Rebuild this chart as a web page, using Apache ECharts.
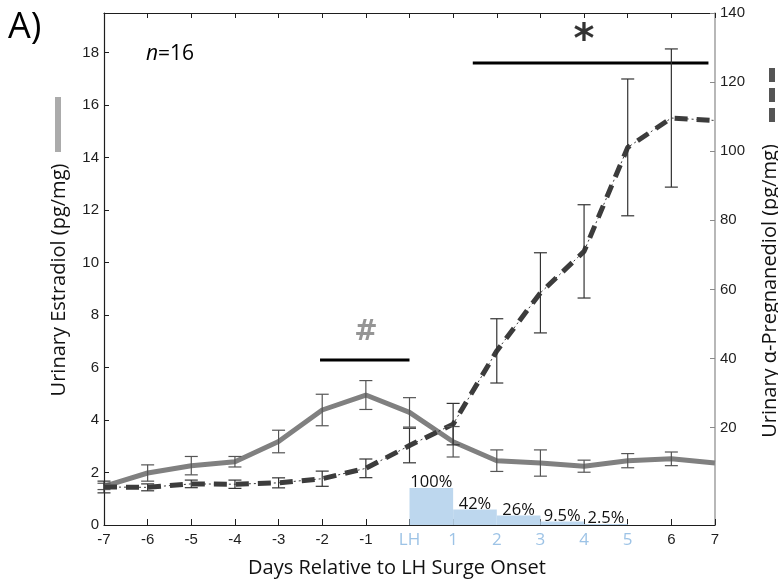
<!DOCTYPE html>
<html><head><meta charset="utf-8">
<script src="https://cdn.jsdelivr.net/npm/echarts@6/dist/echarts.min.js"></script>
<style>html,body{margin:0;padding:0;background:#fff}#c{width:778px;height:585px}</style>
</head><body><div id="c"></div>
<script>
// ---- data ----
const days = [-7,-6,-5,-4,-3,-2,-1,0,1,2,3,4,5,6,7];
const xTickLabels = ['-7','-6','-5','-4','-3','-2','-1','LH','1','2','3','4','5','6','7'];
const estradiol    = [1.47,1.98,2.26,2.41,3.18,4.38,4.95,4.29,3.17,2.45,2.36,2.24,2.45,2.52,2.36];
const estradiolErr = [0.12,0.31,0.35,0.20,0.43,0.60,0.55,0.56,0.58,0.41,0.50,0.23,0.27,0.26,null];
const pregnanediol = [2.8,2.7,3.7,3.6,4.0,5.2,8.2,14.8,21.0,42.2,59.0,71.0,101.1,109.6,108.9];
const pregErr      = [1.7,1.0,1.1,1.2,1.45,2.2,2.7,5.0,6.0,9.3,11.6,13.5,19.8,20.0,null];
const lhStart  = [0,1,2,3,4];
const lhEnd    = [1,2,3,4,5];
const lhPct    = [100,42,26,9.5,2.5];
const lhLabels = ['100%','42%','26%','9.5%','2.5%'];
const leftTicks  = [0,2,4,6,8,10,12,14,16,18];
const rightTicks = [20,40,60,80,100,120,140];
const hashBarX = [-2.05, 0.0], hashBarY = 6.28, hashPos = [-1.0, 7.33];
const starBarX = [1.45, 6.85], starBarY = 17.6, starPos = [4.0, 18.4];

// ---- styles ----
const AX = '#1e1e1e';
const TICKFONT = '"Liberation Sans", Arial, sans-serif';
const CAL = '"Open Sans", sans-serif';
const lhAxisMax = 1385;

function errorBars(yAxisIndex, vals, errs, color) {
  const data = [];
  days.forEach((d,i)=>{ if (errs[i] != null) data.push([d, vals[i]-errs[i], vals[i]+errs[i]]); });
  return {
    type:'custom', xAxisIndex:0, yAxisIndex, data, z:6, silent:true, clip:false,
    encode:{x:0, y:[1,2]},
    renderItem(params, api){
      const x = api.value(0);
      const lo = api.coord([x, api.value(1)]);
      const hi = api.coord([x, api.value(2)]);
      const hw = 6.5;
      const style = {stroke: color, lineWidth: 1.2};
      return {type:'group', children:[
        {type:'line', shape:{x1:lo[0],y1:lo[1],x2:hi[0],y2:hi[1]}, style},
        {type:'line', shape:{x1:lo[0]-hw,y1:lo[1],x2:lo[0]+hw,y2:lo[1]}, style},
        {type:'line', shape:{x1:hi[0]-hw,y1:hi[1],x2:hi[0]+hw,y2:hi[1]}, style}
      ]};
    }
  };
}

const blueMin = lhStart[0], blueMax = lhEnd[lhEnd.length-1];

const option = {
  animation:false,
  backgroundColor:'#fff',
  grid:{left:104, right:63, top:13, bottom:60, containLabel:false},
  xAxis:[{
    type:'value', min:-7, max:7, interval:1, position:'bottom',
    axisLine:{show:true, onZero:false, lineStyle:{color:AX, width:1.2}},
    axisTick:{show:true, inside:true, length:6, lineStyle:{color:AX}},
    splitLine:{show:false},
    axisLabel:{margin:7, formatter:v=>{
      const i = days.indexOf(v); const t = xTickLabels[i];
      return (v>=blueMin && v<=blueMax) ? '{b|'+t+'}' : '{k|'+t+'}';
    }, rich:{
      b:{color:'#9dc3e6', fontFamily:CAL, fontSize:17},
      k:{color:AX, fontFamily:TICKFONT, fontSize:15}
    }}
  },{
    type:'value', min:-7, max:7, interval:1, position:'top',
    axisLine:{show:true, onZero:false, lineStyle:{color:AX, width:1.2}},
    axisTick:{show:true, inside:true, length:5, lineStyle:{color:AX}},
    axisLabel:{show:false}, splitLine:{show:false}
  }],
  yAxis:[{
    type:'value', min:0, max:19.5, position:'left',
    axisLine:{show:true, onZero:false, lineStyle:{color:AX, width:1.2}},
    axisTick:{show:true, inside:true, length:5, customValues:leftTicks, lineStyle:{color:AX}},
    axisLabel:{margin:5, customValues:leftTicks, color:AX, fontFamily:TICKFONT, fontSize:15},
    splitLine:{show:false}
  },{
    type:'value', min:-8.2, max:140, position:'right',
    axisLine:{show:true, onZero:false, lineStyle:{color:'#a6a6a6', width:1.6}},
    axisTick:{show:true, inside:true, length:5, customValues:rightTicks, lineStyle:{color:'#8a8a8a'}},
    axisLabel:{margin:5, customValues:rightTicks, color:AX, fontFamily:TICKFONT, fontSize:15},
    splitLine:{show:false}
  },{
    type:'value', min:0, max:lhAxisMax, show:false, splitLine:{show:false}
  }],
  series:[
    {
      type:'custom', xAxisIndex:0, yAxisIndex:2, z:1, silent:true,
      data: lhStart.map((s,i)=>[s, lhEnd[i], lhPct[i]]),
      encode:{x:[0,1], y:2},
      renderItem(params, api){
        const p0 = api.coord([api.value(0), 0]);
        const p1 = api.coord([api.value(1), api.value(2)]);
        return {type:'group', children:[
          {type:'rect', shape:{x:p0[0], y:p1[1], width:p1[0]-p0[0], height:p0[1]-p1[1]}, style:{fill:'#bdd7ee'}},
          {type:'text', z2:5, style:{x:(p0[0]+p1[0])/2, y:p1[1]-5.5, text:lhLabels[params.dataIndex],
            fill:'#111', fontFamily:CAL, fontSize:16.5, align:'center', verticalAlign:'middle'}}
        ]};
      }
    },
    {
      type:'line', xAxisIndex:0, yAxisIndex:0, z:3, silent:true, showSymbol:false,
      data: days.map((d,i)=>[d, estradiol[i]]),
      lineStyle:{color:'#808080', width:5}
    },
    {
      type:'line', xAxisIndex:0, yAxisIndex:1, z:4, silent:true, showSymbol:false,
      data: days.map((d,i)=>[d, pregnanediol[i]]),
      lineStyle:{color:'#222', width:0.9, type:[2,3]}
    },
    {
      type:'line', xAxisIndex:0, yAxisIndex:1, z:4, silent:true, showSymbol:false,
      data: days.map((d,i)=>[d, pregnanediol[i]]),
      lineStyle:{color:'#3c3c3c', width:5, type:[13,9], cap:'butt'}
    },
    errorBars(0, estradiol, estradiolErr, '#555'),
    errorBars(1, pregnanediol, pregErr, '#333'),
    {
      type:'line', xAxisIndex:0, yAxisIndex:0, z:5, silent:true, showSymbol:false,
      data: hashBarX.map(x=>[x, hashBarY]), lineStyle:{color:'#000', width:3}
    },
    {
      type:'line', xAxisIndex:0, yAxisIndex:0, z:5, silent:true, showSymbol:false,
      data: starBarX.map(x=>[x, starBarY]), lineStyle:{color:'#000', width:3}
    },
    {
      type:'scatter', xAxisIndex:0, yAxisIndex:0, z:5, silent:true, symbolSize:0,
      data:[hashPos],
      label:{show:true, position:'inside', formatter:'#', color:'#7a7a7a', fontSize:28, fontWeight:'bold', fontFamily:'"DejaVu Sans", sans-serif'}
    },
    {
      type:'scatter', xAxisIndex:0, yAxisIndex:0, z:5, silent:true, symbolSize:0,
      data:[starPos],
      label:{show:true, position:'inside', formatter:'*', color:'#000', fontSize:40, fontWeight:'bold', fontFamily:'"DejaVu Sans", sans-serif'}
    }
  ],
  graphic:[
    {type:'text', left:8, top:10, style:{text:'A)', fill:'#000', font:'36px "Open Sans", sans-serif'}},
    {type:'text', x:146, y:54, style:{text:'{i|n}{r|=16}', verticalAlign:'middle', align:'left',
      rich:{i:{fontStyle:'italic', fontFamily:CAL, fontSize:21, fill:'#000'}, r:{fontFamily:CAL, fontSize:21, fill:'#000'}}}},
    {type:'text', x:397, y:568, style:{text:'Days Relative to LH Surge Onset', fill:'#111', fontFamily:CAL, fontSize:20, align:'center', verticalAlign:'middle'}},
    {type:'text', x:59, y:280, rotation:Math.PI/2, style:{text:'Urinary Estradiol (pg/mg)', fill:'#111', fontFamily:CAL, fontSize:20, align:'center', verticalAlign:'middle'}},
    {type:'text', x:770, y:291, rotation:Math.PI/2, style:{text:'Urinary α-Pregnanediol (pg/mg)', fill:'#111', fontFamily:CAL, fontSize:20, align:'center', verticalAlign:'middle'}},
    {type:'rect', shape:{x:55, y:97, width:6, height:55}, style:{fill:'#ababab'}},
    {type:'line', shape:{x1:772, y1:68, x2:772, y2:124}, style:{stroke:'#555', lineWidth:6, lineDash:[14,6]}}
  ]
};
const chart = echarts.init(document.getElementById('c'));
chart.setOption(option);
</script>
</body></html>
